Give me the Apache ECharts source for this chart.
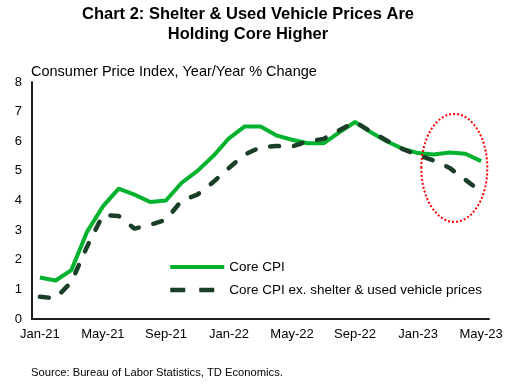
<!DOCTYPE html>
<html>
<head>
<meta charset="utf-8">
<script src="https://cdn.jsdelivr.net/npm/echarts@6/dist/echarts.min.js"></script>
<style>
html,body{margin:0;padding:0;background:#fff;}
#chart{width:517px;height:386px;}
</style>
</head>
<body>
<div id="chart"></div>
<script>
var categories = ['Jan-21','Feb-21','Mar-21','Apr-21','May-21','Jun-21','Jul-21','Aug-21','Sep-21','Oct-21','Nov-21','Dec-21',
  'Jan-22','Feb-22','Mar-22','Apr-22','May-22','Jun-22','Jul-22','Aug-22','Sep-22','Oct-22','Nov-22','Dec-22',
  'Jan-23','Feb-23','Mar-23','Apr-23','May-23'];
var coreCPI = [1.4,1.3,1.65,2.95,3.8,4.4,4.2,3.95,4.0,4.6,5.0,5.5,
  6.1,6.5,6.5,6.2,6.05,5.93,5.93,6.3,6.65,6.3,6.0,5.75,
  5.6,5.55,5.62,5.58,5.33];
var coreExShelterUsed = [0.75,0.7,1.25,2.45,3.51,3.48,3.05,3.18,3.35,4.0,4.2,4.62,
  5.1,5.55,5.8,5.84,5.82,6.0,6.08,6.37,6.65,6.33,6.03,5.74,
  5.53,5.35,5.1,4.7,4.3];
var yTicks = {min:0, max:8, interval:1};
var seriesNames = ['Core CPI','Core CPI ex. shelter & used vehicle prices'];

var font = "'Liberation Sans', Arial, sans-serif";
var chart = echarts.init(document.getElementById('chart'));
var option = {
  animation:false,
  backgroundColor:'#fff',
  title:[{
    text:'Chart 2: Shelter & Used Vehicle Prices Are\nHolding Core Higher',
    left:248, top:4, textAlign:'center', padding:0,
    textStyle:{fontFamily:font, fontSize:16.5, fontWeight:'bold', color:'#000', lineHeight:20}
  },{
    text:'Consumer Price Index, Year/Year % Change',
    left:31, top:64, padding:0,
    textStyle:{fontFamily:font, fontSize:14.5, fontWeight:'normal', color:'#000'}
  },{
    text:'Source: Bureau of Labor Statistics, TD Economics.',
    left:31, top:367, padding:0,
    textStyle:{fontFamily:font, fontSize:11.2, fontWeight:'normal', color:'#000'}
  }],
  grid:{left:32, right:28, top:82, bottom:67},
  legend:{
    orient:'vertical', left:163, top:255, itemWidth:54, itemHeight:14, itemGap:9,
    itemStyle:{opacity:0},
    textStyle:{fontFamily:font, fontSize:13.5, color:'#000'},
    data:[
      {name:seriesNames[0], lineStyle:{width:4}},
      {name:seriesNames[1], lineStyle:{width:4.5, type:[15,14], cap:'butt'}}
    ]
  },
  xAxis:{
    type:'category', data:categories, boundaryGap:true,
    axisLine:{lineStyle:{color:'#1e1e1e', width:2}},
    axisTick:{show:false},
    axisLabel:{interval:3, fontFamily:font, fontSize:13, color:'#000', margin:9}
  },
  yAxis:{
    type:'value', min:yTicks.min, max:yTicks.max, interval:yTicks.interval,
    axisLine:{show:true, lineStyle:{color:'#1e1e1e', width:2}},
    axisTick:{show:false},
    splitLine:{show:false},
    axisLabel:{fontFamily:font, fontSize:13, color:'#000', margin:10}
  },
  series:[{
    name:seriesNames[0], type:'line', data:coreCPI, symbol:'none',
    lineStyle:{color:'#00b22d', width:4}, itemStyle:{color:'#00b22d'}, z:3
  },{
    name:seriesNames[1], type:'line', data:coreExShelterUsed, symbol:'none',
    lineStyle:{color:'#1a3f26', width:4.5, type:[9,15], cap:'round'}, itemStyle:{color:'#1a3f26'}, z:4
  }]
};
chart.setOption(option);

// dotted red ellipse annotation around the recent divergence
var pA = chart.convertToPixel({gridIndex:0}, [26, 5.1]);
var pB = chart.convertToPixel({gridIndex:0}, [27, 5.1]);
var cx = pA[0] + 0.3*(pB[0]-pA[0]);
var cy = pA[1];
chart.setOption({
  graphic:[{
    type:'ellipse', shape:{cx:cx, cy:cy, rx:33, ry:54},
    style:{fill:'none', stroke:'#ff0000', lineWidth:2, lineDash:[2,2]}, z:10, silent:true
  }]
});
</script>
</body>
</html>
